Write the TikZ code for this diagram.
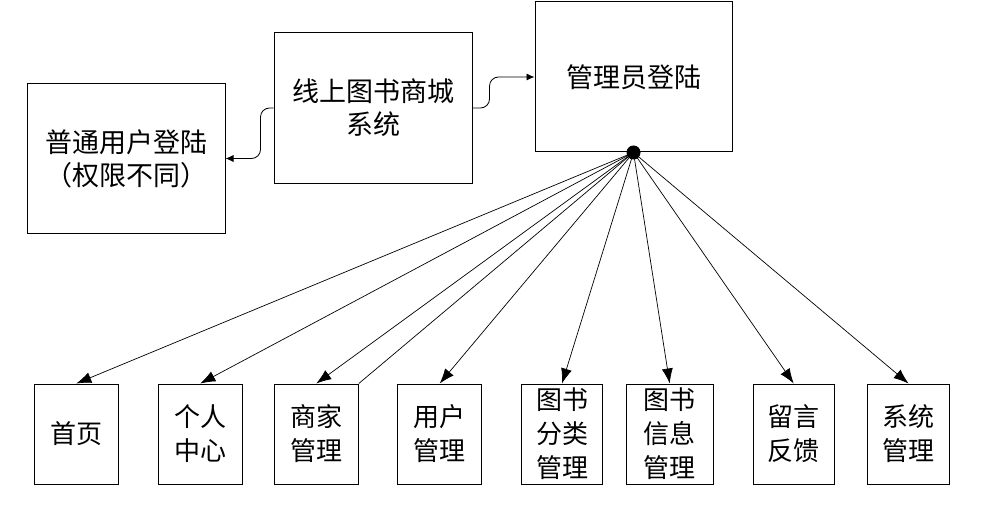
\documentclass[tikz,border=0pt]{standalone}
\usepackage{fontspec}
\setmainfont{Noto Sans CJK SC}
\usetikzlibrary{arrows.meta}
\begin{document}
\begin{tikzpicture}[x=1pt,y=-1pt,
  box/.style={draw=black,line width=1pt,rectangle,inner sep=0pt,align=center,
    font=\fontsize{26}{34}\selectfont},
  topbox/.style={box,minimum width=198pt,minimum height=150pt,
    font=\fontsize{27}{33}\selectfont},
  arrS/.style={-{Latex[length=8pt,width=7pt]},line width=0.8pt,rounded corners=9pt},
  arrB/.style={-{Latex[length=15pt,width=11pt]},line width=0.7pt}]
\useasboundingbox (0,0) rectangle (981,505);
% top boxes
\node[topbox,minimum height=149pt] (user) at (126,158.5) {普通用户登陆\\（权限不同）};
\node[topbox] (sys) at (373,108) {线上图书商城\\系统};
\node[topbox,minimum width=197pt] (admin) at (633.5,77) {管理员登陆};
% connectors
\draw[arrS] (sys.west) -- ++(-13,0) |- (user.east);
\draw[arrS] (sys.east) -- ++(17,0) |- (admin.west);
\fill (admin.south) circle (7pt) coordinate (hub);
% bottom boxes
\node[box,minimum width=84pt,minimum height=100pt] (b1) at (76.3,434) {首页};
\node[box,minimum width=84pt,minimum height=100pt] (b2) at (200.3,434) {个人\\中心};
\node[box,minimum width=84pt,minimum height=100pt] (b3) at (316.3,434) {商家\\管理};
\node[box,minimum width=84pt,minimum height=100pt] (b4) at (439.7,434) {用户\\管理};
\node[box,minimum width=81pt,minimum height=100pt] (b5) at (562,434) {图书\\分类\\管理};
\node[box,minimum width=87pt,minimum height=100pt] (b6) at (669.7,434) {图书\\信息\\管理};
\node[box,minimum width=81pt,minimum height=100pt] (b7) at (793.7,434) {留言\\反馈};
\node[box,minimum width=82pt,minimum height=100pt] (b8) at (908.5,434) {系统\\管理};
% fan-out arrows
\foreach \b in {b1,b2,b3,b4,b5,b6,b7,b8}
  \draw[arrB] (hub) -- (\b.north);
\draw[line width=0.7pt] (hub) -- (b3.north east);
\end{tikzpicture}
\end{document}
